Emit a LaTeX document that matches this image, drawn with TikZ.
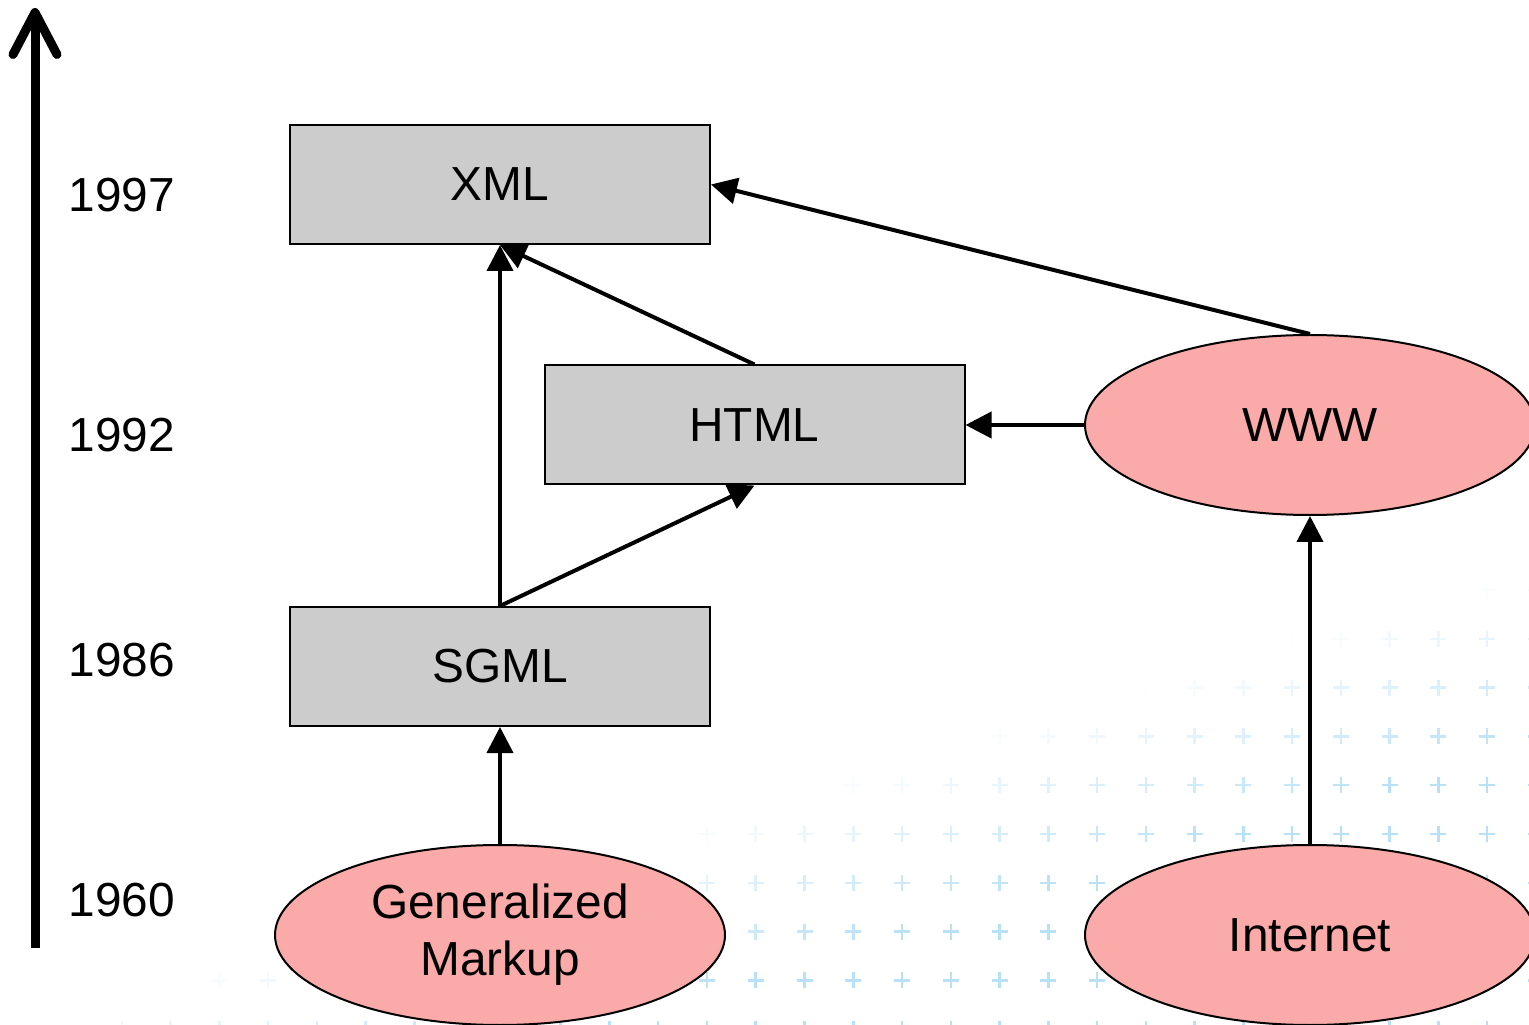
\documentclass[tikz,border=0pt]{standalone}
\usepackage{fontspec}
\setmainfont{Liberation Sans}
\usetikzlibrary{positioning, arrows.meta, shapes.geometric}
\definecolor{boxgray}{HTML}{CCCCCC}
\definecolor{rootpink}{HTML}{FBAAAA}
\definecolor{dotblue}{HTML}{B8E0F6}
\tikzset{every node/.style={font=\fontsize{13.6}{17.6}\selectfont}}
\tikzset{lang/.style={draw, line width=0.02cm, fill=boxgray, minimum width=4.2cm, minimum height=1.19cm, inner sep=0}}
\tikzset{root/.style={draw, ellipse, line width=0.02cm, fill=rootpink, minimum width=4.5cm, minimum height=1.8cm, inner sep=0, align=center}}
\tikzset{arr/.style={draw, line width=0.04cm, -{Triangle[length=2.6mm, width=2.6mm]}}}
\tikzset{timeline/.style={draw, line width=0.09cm, -{Straight Barb[length=4.2mm, width=4.4mm, round]}}}
\tikzset{cross/.style={dotblue, line width=0.025cm}}

\begin{document}
\begin{tikzpicture}
			\useasboundingbox (0,0) rectangle (15.29,10.24);
			% faint grid of crosses in the background
			\foreach \i in {-1,...,28} {
				\foreach \j in {-1,...,9} {
					\pgfmathsetmacro\px{14.87-0.4875*\i}
					\pgfmathsetmacro\py{4.34-0.488*\j}
					\pgfmathsetmacro\op{max(0,min(1,(100*\px-328*\py-16.3)/600))}
					\draw[cross, opacity=\op] (\px-0.08,\py) -- (\px+0.08,\py)
						(\px,\py-0.08) -- (\px,\py+0.08);
				}
			}
			%
			\coordinate (t0) at (0.35,0.76);
			\coordinate (t1) at (0.35,10.16);
			\draw[timeline] (t0) -- (t1);
			\node (y97) at (1.22,8.29) {1997};
			\node (y92) at (1.22,5.89) {1992};
			\node (y86) at (1.22,3.64) {1986};
			\node (y60) at (1.22,1.24) {1960};
			%
			\node[lang] (xml) at (5.00,8.395) {XML};
			\node[lang, below=3.61 of xml] (sgml) {SGML};
			\node[lang] (html) at (7.545,5.99) {HTML};
			\node[root] (www) at (13.10,5.99) {WWW};
			\node[root] (gm) at (5.00,0.89) {\raisebox{-0.05cm}{Generalized}\\Markup};
			\node[root] (net) at (13.10,0.89) {Internet};
			%
			\draw[arr] (gm) -- (sgml);
			\draw[arr] (sgml.north) -- (xml.south);
			\draw[arr] (sgml.north) -- (html.south);
			\draw[arr] (html.north) -- (xml.south);
			\draw[arr] (www.west) -- (html.east);
			\draw[arr] (www.north) -- (xml.east);
			\draw[arr] (net) -- (www);
		\end{tikzpicture}
\end{document}
